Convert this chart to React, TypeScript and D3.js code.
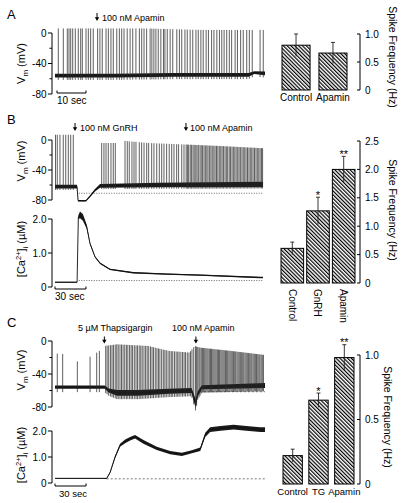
import React from "react";
import * as d3 from "d3";

const FONT = "'Liberation Sans', Arial, Helvetica, sans-serif";

// ---------------- Panel A data ----------------
const spikesA = [0.45, 2.17, 3.55, 4.14, 4.72, 5.41, 6.31, 7.34, 8.17, 8.72, 10.0, 10.8, 11.6, 12.5, 14.0, 14.8, 15.6, 16.9, 17.7, 18.6, 19.4, 20.6, 21.5, 22.3, 23.1, 24.2, 25.2, 26.1, 27.2, 28.4, 29.2, 30.0, 30.9, 32.1, 32.7, 33.4, 34.1, 34.9, 35.8, 36.7, 37.2, 38.0, 39.0, 39.9, 41.3, 42.2, 43.0, 44.1, 44.9, 45.9, 46.8, 47.9, 48.7, 49.6, 50.4, 51.4, 52.2, 53.3, 54.1, 55.1, 56.0, 56.8, 57.6, 58.5, 59.4, 60.2, 61.4, 62.2, 63.3, 64.2, 65.4, 66.3, 67.3, 70.0, 71.1];
const peaksA = [[0, 6], [30, 6], [50, 4], [72, 4]];
const baseA = [[-0.7, -56, 2.5], [20, -56, 2.5], [40, -55, 2.5], [60, -55, 2.5], [66, -55, 2.5], [68, -52, 1.8], [71.7, -53, 2.5]];
const barCatsA = ["Control", "Apamin"];
const barValsA = [0.8, 0.66];
const barErrA = [0.2, 0.19];
const barTicksA = [0, 0.5, 1.0];

// ---------------- Panel B data ----------------
const spikesB = [0.5, 2.2, 4.8, 8.0, 10.4, 12.9, 15.2, 17.7,
  45.2, 47.4, 49.4, 51.6, 54.2, 56.4, 58.4,
  67.8, 70.0, 71.9, 74.5, 76.5, 78.4, 81.6, 83.9, 86.2, 88.8, 90.7, 93.6, 95.8, 98.5, 101.0, 103.3, 105.5, 108.1, 110.6, 113.0, 115.2, 117.8, 119.7, 122.7, 124.9, 127.0,
  128.2, 129.4, 130.9, 132.1, 133.6, 134.8, 136.3, 137.5, 138.8, 140.4, 141.6, 142.9, 144.3, 145.6, 147.0, 148.2, 149.7, 151.0, 152.3, 153.8, 155.0, 156.4, 157.7, 159.1, 160.5, 161.8, 163.1, 164.6, 165.9, 167.2, 168.7, 170.0, 171.4, 172.7, 174.1, 175.4, 176.9, 178.2, 179.5, 181.0, 182.3, 183.7, 185.0, 186.4, 187.8, 189.1, 190.5, 191.8, 193.2, 194.6, 195.9, 197.3, 198.6, 200.0, 201.0];
const peaksB = [[0, 7], [20, 7], [44, -4], [60, -4], [66, -1], [90, -4], [126, -6], [160, -8], [202, -11]];
const baseB = [[0, -62, 2.5], [21.3, -62, 2.5], [22.4, -81, 1], [30, -81, 1], [33.9, -75, 1.2], [38.7, -67, 1.8], [43.6, -61, 2.5], [100, -60, 3], [201.4, -59, 3.5]];
const caB = [[0, 0.14, 0.015], [21.4, 0.14, 0.015], [22.6, 2.05, 0.06], [24.2, 2.12, 0.1], [27, 2.05, 0.1], [30.7, 1.77, 0.06], [33.9, 1.28, 0.03], [38.7, 0.89, 0.02], [43.6, 0.7, 0.02], [53.2, 0.52, 0.02], [75.8, 0.42, 0.02], [108.1, 0.38, 0.02], [140.4, 0.35, 0.02], [198.5, 0.28, 0.02], [201.4, 0.28, 0.02]];
const barCatsB = ["Control", "GnRH", "Apamin"];
const barValsB = [0.61, 1.27, 2.0];
const barErrB = [0.11, 0.24, 0.23];
const barStarsB = ["", "*", "**"];
const barTicksB = [0, 0.5, 1.0, 1.5, 2.0, 2.5];

// ---------------- Panel C data ----------------
const spikesC = [2.2, 7.4, 21.6, 33.9, 40.3, 42.9,
  49.0, 50.4, 51.9, 53.6, 55.1, 56.5, 58.2, 59.7, 61.1, 62.8, 64.3, 65.8, 67.4, 69.0, 70.4, 72.1, 73.6, 75.0, 76.7, 78.3, 79.7, 81.4, 82.9, 84.3, 86.0, 87.6, 89.1, 90.6, 92.3, 93.8, 95.2, 96.9, 98.5, 100.0, 101.4, 103.1, 104.7, 106.2, 107.6, 109.3, 110.9, 112.4, 113.8, 115.5, 117.1, 118.6, 120.0, 121.7, 123.3, 124.8, 126.2, 127.9, 129.5, 131.0, 132.4, 134.1,
  135.8, 136.9, 138.0, 139.2, 140.2, 141.4, 142.5, 143.5, 144.7, 145.8, 146.9, 148.0, 149.2, 150.3, 151.3, 152.5, 153.6, 154.7, 155.8, 157.0, 158.1, 159.1, 160.3, 161.4, 162.5, 163.6, 164.8, 165.9, 166.9, 168.1, 169.2, 170.3, 171.4, 172.6, 173.7, 174.7, 175.9, 177.0, 178.1, 179.2, 180.4, 181.5, 182.5, 183.7, 184.8, 185.9, 187.0, 188.2, 189.3, 190.3, 191.5, 192.6, 193.7, 194.8, 196.0, 197.1, 198.1, 199.3, 200.4, 201.5];
const peaksC = [[0, -15], [10, -16], [21, -25], [34, -19], [43, -12], [48, -6], [60, -4], [90, -6], [110, -12], [130, -14], [135, -6], [140, -8], [170, -12], [203, -17]];
const baseC = [[0, -56, 2], [48, -56, 2], [52, -60, 2.5], [60, -63, 3.5], [80, -63, 3.5], [110, -61, 3], [132, -60, 3], [134, -68, 4.5], [136, -76, 5], [138, -64, 3], [142, -56, 2.5], [203, -54, 3]];
const caC = [[0, 0.18, 0.015], [50, 0.18, 0.015], [53.2, 0.4, 0.03], [58.1, 1.0, 0.05], [62.9, 1.45, 0.06], [67.8, 1.6, 0.07], [72.6, 1.7, 0.07], [77.4, 1.78, 0.07], [85.5, 1.58, 0.07], [98.4, 1.33, 0.06], [111.3, 1.17, 0.06], [122.6, 1.1, 0.06], [132.3, 1.2, 0.06], [140.4, 1.3, 0.07], [145.2, 1.85, 0.08], [150, 2.05, 0.09], [160, 2.1, 0.09], [172.6, 2.15, 0.09], [185, 2.1, 0.09], [198.5, 2.05, 0.09], [203, 2.05, 0.09]];
const barCatsC = ["Control", "TG", "Apamin"];
const barValsC = [0.22, 0.65, 0.98];
const barErrC = [0.05, 0.055, 0.1];
const barStarsC = ["", "*", "**"];
const barTicksC = [0, 0.5, 1.0];

const vmTicks = [0, -40, -80];
const vmMinor = [-20, -60];
const caTicks = [0, 1.0, 2.0];

// ---------------- helpers ----------------
function interp(keys: number[][], idx: number) {
  return d3.scaleLinear().domain(keys.map(k => k[0])).range(keys.map(k => k[idx])).clamp(true);
}

function Band({ xs, ys, keys }: any) {
  const area = d3.area<number[]>().x(d => xs(d[0])).y0(d => ys(d[1] - d[2])).y1(d => ys(d[1] + d[2]));
  const line = d3.line<number[]>().x(d => xs(d[0])).y(d => ys(d[1]));
  return (
    <g>
      <path d={area(keys) || ""} fill="#1a1a1a" />
      <path d={line(keys) || ""} stroke="#111" strokeWidth={0.9} fill="none" />
    </g>
  );
}

function Trace({ xs, ys, base, spikes, peaks, ahp }: any) {
  const center = interp(base, 1), half = interp(base, 2), peak = interp(peaks, 1);
  const d = spikes.map((t: number) => `M${xs(t).toFixed(2)},${ys(center(t) - half(t) - ahp).toFixed(2)}V${ys(peak(t)).toFixed(2)}`).join("");
  return (
    <g>
      <Band xs={xs} ys={ys} keys={base} />
      <path d={d} stroke="#2a2a2a" strokeWidth={0.75} fill="none" />
    </g>
  );
}

function LeftAxis({ x, ys, ticks, minor, fmt }: any) {
  const [a, b] = d3.extent(ticks as number[]) as [number, number];
  return (
    <g>
      <line x1={x} x2={x} y1={ys(a)} y2={ys(b)} stroke="#000" strokeWidth={1} />
      {ticks.map((t: number) => (
        <g key={t}>
          <line x1={x - 4} x2={x} y1={ys(t)} y2={ys(t)} stroke="#000" strokeWidth={1} />
          <text x={x - 5.5} y={ys(t)} dy="0.36em" textAnchor="end" fontSize={10}>{fmt(t)}</text>
        </g>
      ))}
      {(minor || []).map((t: number) => (
        <line key={"m" + t} x1={x - 2.5} x2={x} y1={ys(t)} y2={ys(t)} stroke="#000" strokeWidth={1} />
      ))}
    </g>
  );
}

function ScaleBar({ xs, y, sec, label, lx, ly, fs }: any) {
  const x1 = xs(0), x2 = xs(sec);
  return (
    <g>
      <path d={`M${x1},${y - 2.5}V${y}H${x2}V${y - 2.5}`} stroke="#000" strokeWidth={1} fill="none" />
      <text x={lx} y={ly} fontSize={fs}>{label}</text>
    </g>
  );
}

function Arrow({ x, y1, y2 }: any) {
  return (
    <g>
      <line x1={x} x2={x} y1={y1} y2={y2 - 3} stroke="#000" strokeWidth={1} />
      <path d={`M${x - 2.2},${y2 - 3.8}L${x + 2.2},${y2 - 3.8}L${x},${y2}Z`} fill="#000" />
    </g>
  );
}

function VmLabel({ cy }: any) {
  return (
    <text transform={`translate(25,${cy}) rotate(-90)`} textAnchor="middle" fontSize={11}>
      V<tspan fontSize={8} dy={2.5}>m</tspan><tspan dy={-2.5}> (mV)</tspan>
    </text>
  );
}

function CaLabel({ cy }: any) {
  return (
    <text transform={`translate(25,${cy}) rotate(-90)`} textAnchor="middle" fontSize={11}>
      [Ca<tspan fontSize={7.5} dy={-4}>2+</tspan><tspan dy={4}>]</tspan><tspan fontSize={7.5} dy={2.5}>i</tspan><tspan dy={-2.5}> (µM)</tspan>
    </text>
  );
}

function Bars({ cats, vals, errs, stars, ticks, yDomain, yRange, xRange, pad, axisX, labelMode, labelY, labelFs, titleX, titleY }: any) {
  const ys = d3.scaleLinear().domain(yDomain).range(yRange);
  const xb = d3.scaleBand<string>().domain(cats).range(xRange).paddingInner(pad).paddingOuter(0);
  const bw = xb.bandwidth();
  return (
    <g>
      {cats.map((c: string, i: number) => {
        const x0 = xb(c) as number;
        const cx = x0 + bw / 2;
        const top = ys(vals[i]);
        const eTop = ys(vals[i] + errs[i]);
        const eBot = ys(vals[i] - errs[i]);
        return (
          <g key={c}>
            <rect x={x0} y={top} width={bw} height={ys(0) - top} fill="url(#hatch)" stroke="#000" strokeWidth={1} />
            <line x1={cx} x2={cx} y1={eTop} y2={eBot} stroke="#222" strokeWidth={0.9} />
            <line x1={cx - 2} x2={cx + 2} y1={eTop} y2={eTop} stroke="#222" strokeWidth={0.9} />
            {stars && stars[i] ? (
              <text x={cx} y={eTop + 1.5} textAnchor="middle" fontSize={11}>{stars[i]}</text>
            ) : null}
            {labelMode === "rot" ? (
              <text transform={`translate(${cx},${labelY}) rotate(90)`} dy="0.36em" fontSize={labelFs}>{c}</text>
            ) : (
              <text x={cx} y={labelY} textAnchor="middle" fontSize={labelFs}>{c}</text>
            )}
          </g>
        );
      })}
      <line x1={axisX} x2={axisX} y1={ys(ticks[0])} y2={ys(ticks[ticks.length - 1])} stroke="#000" strokeWidth={1} />
      {ticks.map((t: number) => (
        <g key={t}>
          <line x1={axisX - 3} x2={axisX} y1={ys(t)} y2={ys(t)} stroke="#000" strokeWidth={1} />
          <text x={axisX + 5} y={ys(t)} dy="0.36em" fontSize={10}>{t === 0 ? "0" : t.toFixed(1)}</text>
        </g>
      ))}
      <text transform={`translate(${titleX},${titleY}) rotate(90)`} textAnchor="middle" fontSize={10.5}>Spike Frequency (Hz)</text>
    </g>
  );
}

export default function App() {
  // Panel A scales
  const xA = d3.scaleLinear().domain([0, 71.7]).range([57, 265]);
  const vA = d3.scaleLinear().domain([-80, 0]).range([94, 33]);
  // Panel B scales
  const xB = d3.scaleLinear().domain([0, 201.4]).range([55, 263]);
  const vB = d3.scaleLinear().domain([-80, 0]).range([200, 140]);
  const cB = d3.scaleLinear().domain([0, 2]).range([287, 219]);
  // Panel C scales
  const xC = d3.scaleLinear().domain([0, 203]).range([55, 265]);
  const vC = d3.scaleLinear().domain([-80, 0]).range([407, 341]);
  const cC = d3.scaleLinear().domain([0, 2]).range([483, 431]);

  const fmtV = (t: number) => String(t);
  const fmtC = (t: number) => (t === 0 ? "0" : t.toFixed(1));

  return (
    <svg width={401} height={503} style={{ position: "absolute", left: 0, top: 0, background: "#fff" }} fontFamily={FONT}>
      <defs>
        <pattern id="hatch" width={2.7} height={2.7} patternUnits="userSpaceOnUse" patternTransform="rotate(-45)">
          <rect width={2.7} height={2.7} fill="#fff" />
          <line x1={0.6} y1={0} x2={0.6} y2={2.7} stroke="#000" strokeWidth={1.2} />
        </pattern>
      </defs>
      <rect width={401} height={503} fill="#fff" />

      {/* ---------- Panel A ---------- */}
      <text x={7} y={19} fontSize={13}>A</text>
      <Arrow x={xA(13.8)} y1={13} y2={21} />
      <text x={102} y={21} fontSize={9}>100 nM Apamin</text>
      <VmLabel cy={63.5} />
      <LeftAxis x={52} ys={vA} ticks={vmTicks} minor={vmMinor} fmt={fmtV} />
      <Trace xs={xA} ys={vA} base={baseA} spikes={spikesA} peaks={peaksA} ahp={3} />
      <ScaleBar xs={xA} y={93} sec={10} label="10 sec" lx={57} ly={104} fs={10} />
      <Bars cats={barCatsA} vals={barValsA} errs={barErrA} ticks={barTicksA}
        yDomain={[0, 1]} yRange={[90, 34]} xRange={[282, 347]} pad={0.24} axisX={360}
        labelMode="h" labelY={101} labelFs={10} titleX={388.5} titleY={57} />

      {/* ---------- Panel B ---------- */}
      <text x={7} y={124} fontSize={13}>B</text>
      <Arrow x={xB(19.4)} y1={123} y2={131} />
      <text x={80} y={130.5} fontSize={9}>100 nM GnRH</text>
      <Arrow x={xB(126.8)} y1={123} y2={131} />
      <text x={190} y={130.5} fontSize={9}>100 nM Apamin</text>
      <VmLabel cy={161} />
      <LeftAxis x={52} ys={vB} ticks={vmTicks} minor={vmMinor} fmt={fmtV} />
      <line x1={xB(23)} x2={xB(201.4)} y1={vB(-71)} y2={vB(-71)} stroke="#444" strokeWidth={0.8} strokeDasharray="1,1.5" />
      <Trace xs={xB} ys={vB} base={baseB} spikes={spikesB} peaks={peaksB} ahp={2} />
      <CaLabel cy={249} />
      <LeftAxis x={52} ys={cB} ticks={caTicks} fmt={fmtC} />
      <line x1={xB(23)} x2={xB(201.4)} y1={cB(0.19)} y2={cB(0.19)} stroke="#444" strokeWidth={0.8} strokeDasharray="1,1.5" />
      <Band xs={xB} ys={cB} keys={caB} />
      <ScaleBar xs={xB} y={289} sec={30} label="30 sec" lx={55} ly={299.5} fs={10} />
      <Bars cats={barCatsB} vals={barValsB} errs={barErrB} stars={barStarsB} ticks={barTicksB}
        yDomain={[0, 2.5]} yRange={[283, 141]} xRange={[281, 355]} pad={0.12} axisX={360}
        labelMode="rot" labelY={289} labelFs={10} titleX={389} titleY={210} />

      {/* ---------- Panel C ---------- */}
      <text x={7} y={327} fontSize={13}>C</text>
      <text x={78} y={330.5} fontSize={9}>5 µM Thapsigargin</text>
      <Arrow x={xC(47.7)} y1={336.5} y2={343.5} />
      <text x={172} y={330.5} fontSize={9}>100 nM Apamin</text>
      <Arrow x={xC(136.2)} y1={336.5} y2={343.5} />
      <VmLabel cy={370} />
      <LeftAxis x={52} ys={vC} ticks={vmTicks} minor={vmMinor} fmt={fmtV} />
      <line x1={xC(140)} x2={xC(203)} y1={vC(-61.5)} y2={vC(-61.5)} stroke="#555" strokeWidth={0.8} strokeDasharray="2,2" />
      <Trace xs={xC} ys={vC} base={baseC} spikes={spikesC} peaks={peaksC} ahp={4} />
      <CaLabel cy={455} />
      <LeftAxis x={52} ys={cC} ticks={caTicks} fmt={fmtC} />
      <line x1={xC(50)} x2={xC(203)} y1={cC(0.16)} y2={cC(0.16)} stroke="#555" strokeWidth={0.8} strokeDasharray="2,2" />
      <Band xs={xC} ys={cC} keys={caC} />
      <ScaleBar xs={xC} y={486} sec={30} label="30 sec" lx={59} ly={497} fs={9.5} />
      <Bars cats={barCatsC} vals={barValsC} errs={barErrC} stars={barStarsC} ticks={barTicksC}
        yDomain={[0, 1]} yRange={[484, 355]} xRange={[283, 354]} pad={0.25} axisX={360}
        labelMode="h" labelY={495} labelFs={9.5} titleX={384} titleY={417} />
    </svg>
  );
}
